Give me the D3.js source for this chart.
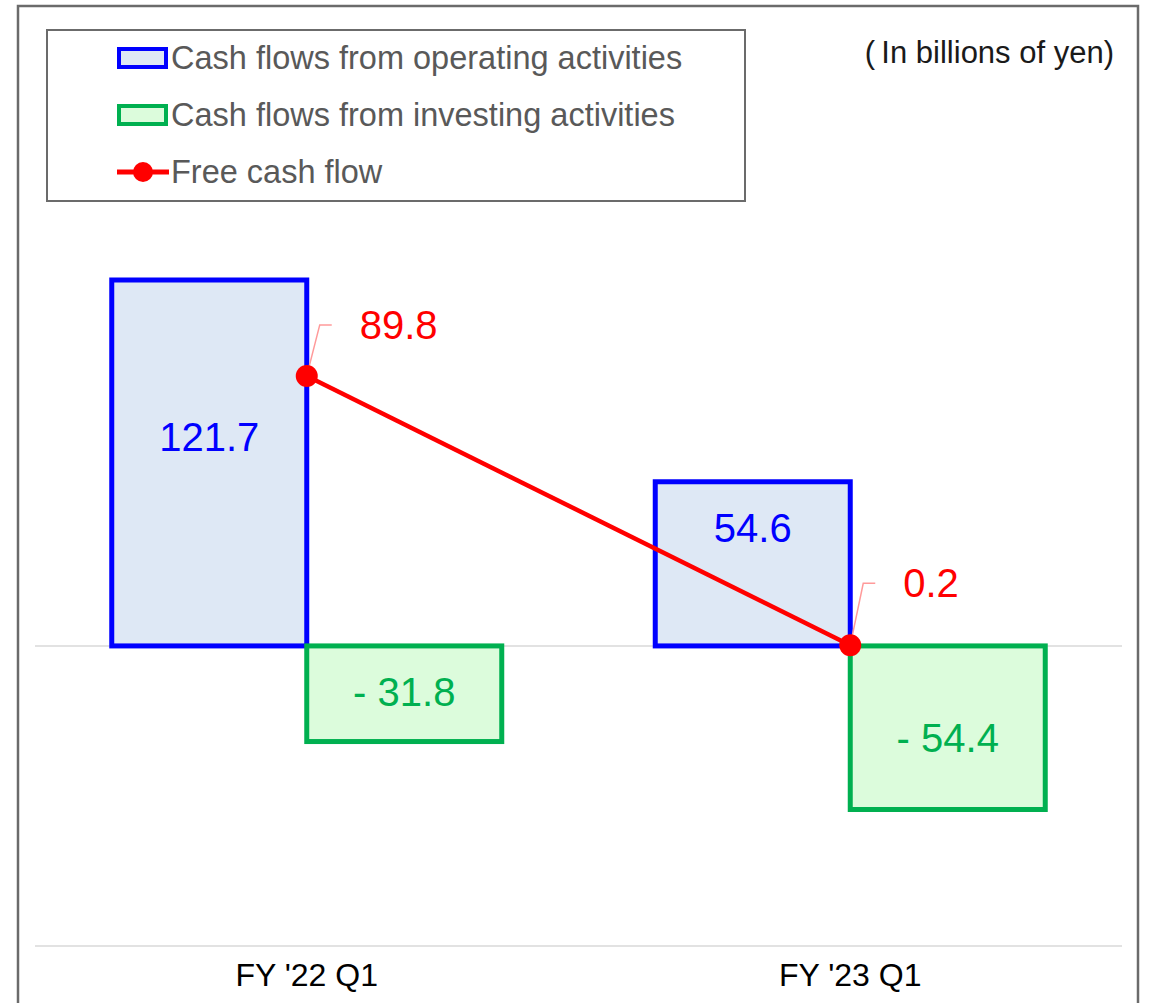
<!DOCTYPE html>
<html><head><meta charset="utf-8">
<script src="https://cdn.jsdelivr.net/npm/d3@7"></script>
<style>body{margin:0;background:#fff}svg{display:block}text{font-family:"Liberation Sans",Arial,sans-serif}</style>
</head><body>
<svg id="c" width="1151" height="1003"></svg>
<script>
const categories = ["FY '22 Q1", "FY '23 Q1"];
const operating = [121.7, 54.6];
const investing = [-31.8, -54.4];
const freeCashFlow = [89.8, 0.2];
const opLabels = ["121.7", "54.6"];
const invLabels = ["- 31.8", "- 54.4"];
const fcfLabels = ["89.8", "0.2"];
const seriesNames = ["Cash flows from operating activities", "Cash flows from investing activities", "Free cash flow"];

// layout constants (label placement offsets, px)
const opLabelCenter = [437, 528];
const invLabelCenter = [692, 738];
const fcfLabelRise = [51, 62];

const svg = d3.select("#c");
const plotL = 35, plotR = 1122;
const x0 = d3.scaleBand().domain(categories).range([plotL, plotR]);
const x1 = d3.scaleBand().domain(["op","inv"]).range([0, 390]);
const y = d3.scaleLinear().domain([-99.8, 121.7]).range([946, 280]);

// outer frame
svg.append("rect").attr("x",18).attr("y",6).attr("width",1120).attr("height",1010)
  .attr("fill","none").attr("stroke","#6b6b6b").attr("stroke-width",2.5);

// axis lines
svg.append("line").attr("x1",plotL).attr("x2",plotR).attr("y1",y(0)).attr("y2",y(0)).attr("stroke","#d9d9d9").attr("stroke-width",1.5);
svg.append("line").attr("x1",plotL).attr("x2",plotR).attr("y1",946).attr("y2",946).attr("stroke","#d9d9d9").attr("stroke-width",1.5);

const fx = c => x0(c) + x0.bandwidth()/2;
const groupX = c => fx(c) - 195;

// bars
categories.forEach((c,i)=>{
  const gx = groupX(c);
  svg.append("rect").attr("x",gx + x1("op")).attr("width",x1.bandwidth())
    .attr("y",y(operating[i])).attr("height",y(0)-y(operating[i]))
    .attr("fill","#dee8f5").attr("stroke","#0000ff").attr("stroke-width",5);
  svg.append("rect").attr("x",gx + x1("inv")).attr("width",x1.bandwidth())
    .attr("y",y(0)).attr("height",y(investing[i])-y(0))
    .attr("fill","#dcfcdc").attr("stroke","#00b050").attr("stroke-width",5);
  svg.append("text").attr("x",gx + x1("op") + x1.bandwidth()/2)
    .attr("y",opLabelCenter[i] + 14).attr("text-anchor","middle")
    .attr("font-size",40).attr("fill","#0000ff").text(opLabels[i]);
  svg.append("text").attr("x",gx + x1("inv") + x1.bandwidth()/2)
    .attr("y",invLabelCenter[i] + 14).attr("text-anchor","middle")
    .attr("font-size",40).attr("fill","#00b050").text(invLabels[i]);
});

// free cash flow line
svg.append("path").datum(freeCashFlow)
  .attr("d", d3.line().x((d,i)=>fx(categories[i])).y(d=>y(d)))
  .attr("fill","none").attr("stroke","#ff0000").attr("stroke-width",4.5);
freeCashFlow.forEach((v,i)=>{
  const px = fx(categories[i]), py = y(v), r = fcfLabelRise[i];
  svg.append("path").attr("d",`M${px},${py} L${px+13},${py-r} L${px+25},${py-r}`)
    .attr("fill","none").attr("stroke","#ff9a9a").attr("stroke-width",1.5);
  svg.append("circle").attr("cx",px).attr("cy",py).attr("r",11).attr("fill","#ff0000");
  svg.append("text").attr("x",px+53).attr("y",py-r+14).attr("font-size",40).attr("fill","#ff0000").text(fcfLabels[i]);
});

// category labels
categories.forEach(c=>{
  svg.append("text").attr("x",fx(c)).attr("y",986).attr("text-anchor","middle")
    .attr("font-size",32).attr("fill","#000").text(c);
});

// unit note
svg.append("text").attr("x",1114).attr("y",63).attr("text-anchor","end").attr("font-size",31).attr("fill","#1a1a1a").text("(\u2009In billions of yen)");

// legend
svg.append("rect").attr("x",47).attr("y",30).attr("width",698).attr("height",171)
  .attr("fill","#fff").attr("stroke","#6b6b6b").attr("stroke-width",2);
const ly = [58, 115, 172];
svg.append("rect").attr("x",119).attr("y",ly[0]-9).attr("width",47).attr("height",18)
  .attr("fill","#dee8f5").attr("stroke","#0000ff").attr("stroke-width",4);
svg.append("rect").attr("x",119).attr("y",ly[1]-9).attr("width",47).attr("height",18)
  .attr("fill","#dcfcdc").attr("stroke","#00b050").attr("stroke-width",4);
svg.append("line").attr("x1",117).attr("x2",169).attr("y1",ly[2]).attr("y2",ly[2]).attr("stroke","#ff0000").attr("stroke-width",5);
svg.append("circle").attr("cx",143).attr("cy",ly[2]).attr("r",10).attr("fill","#ff0000");
seriesNames.forEach((n,i)=>{
  svg.append("text").attr("x",171).attr("y",ly[i]+11).attr("font-size",32.5).attr("fill","#595959").text(n);
});
</script>
</body></html>
